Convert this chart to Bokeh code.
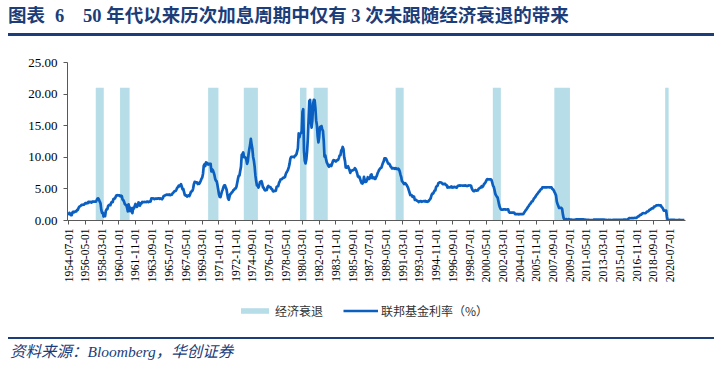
import numpy as np
from bokeh.plotting import figure
from bokeh.layouts import column
from bokeh.models import (FixedTicker, NumeralTickFormatter, Div,
                          Legend, LegendItem, Range1d)
from bokeh.embed import file_html
from bokeh.resources import INLINE

# ---------------- texts ----------------
title_no_a = "图表"
title_no_b = "6"
title_text = "50 年代以来历次加息周期中仅有 3 次未跟随经济衰退的带来"
source_text = "资料来源：Bloomberg，华创证券"
legend_recession = "经济衰退"
legend_rate = "联邦基金利率（%）"

# ---------------- data ----------------
series_start = "1954-07"
# Fed funds rate (%), monthly, from 1954-07
ffr_1950s = [0.80, 1.22, 1.06, 0.85, 0.83, 1.28,
             1.39, 1.29, 1.35, 1.43, 1.43, 1.64, 1.68, 1.96, 2.18, 2.24, 2.35, 2.48,
             2.45, 2.50, 2.50, 2.62, 2.75, 2.71, 2.75, 2.73, 2.95, 2.96, 2.88, 2.94,
             2.84, 3.00, 2.96, 3.00, 3.00, 3.00, 2.99, 3.24, 3.47, 3.50, 3.28, 2.98,
             2.72, 1.67, 1.20, 1.26, 0.63, 0.93, 0.68, 1.53, 1.76, 1.80, 2.27, 2.42,
             2.48, 2.43, 2.80, 2.96, 2.90, 3.39, 3.47, 3.50, 3.76, 3.98, 4.00, 3.99]
ffr_1960s = [3.99, 3.97, 3.84, 3.92, 3.85, 3.32, 3.23, 2.98, 2.60, 2.47, 2.44, 1.98,
             1.45, 2.54, 2.02, 1.49, 1.98, 1.73, 1.17, 2.00, 1.88, 2.26, 2.61, 2.33,
             2.15, 2.37, 2.85, 2.78, 2.36, 2.68, 2.71, 2.93, 2.90, 2.90, 2.94, 2.93,
             2.92, 3.00, 2.98, 2.90, 3.00, 2.99, 3.02, 3.49, 3.48, 3.50, 3.48, 3.38,
             3.48, 3.48, 3.43, 3.47, 3.50, 3.50, 3.42, 3.50, 3.45, 3.36, 3.52, 3.85,
             3.90, 3.98, 4.04, 4.09, 4.10, 4.04, 4.09, 4.12, 4.01, 4.08, 4.10, 4.32,
             4.42, 4.60, 4.65, 4.67, 4.90, 5.17, 5.30, 5.53, 5.40, 5.53, 5.76, 5.40,
             4.94, 5.00, 4.53, 4.05, 3.94, 3.98, 3.79, 3.90, 3.99, 3.88, 4.13, 4.51,
             4.61, 4.71, 5.05, 5.76, 6.11, 6.07, 6.02, 6.03, 5.78, 5.91, 5.82, 6.02,
             6.30, 6.61, 6.79, 7.41, 8.67, 8.90, 8.61, 9.19, 9.15, 9.00, 8.85, 8.97]
ffr_1970s = [8.98, 8.98, 7.76, 8.10, 7.95, 7.61, 7.21, 6.61, 6.29, 6.20, 5.60, 4.90,
             4.14, 3.72, 3.71, 4.16, 4.63, 4.91, 5.31, 5.56, 5.55, 5.20, 4.91, 4.14,
             3.50, 3.29, 3.83, 4.17, 4.27, 4.46, 4.55, 4.80, 4.87, 5.04, 5.06, 5.33,
             5.94, 6.58, 7.09, 7.12, 7.84, 8.49, 10.40, 10.50, 10.78, 10.01, 10.03, 9.95,
             9.65, 8.97, 9.35, 10.51, 11.31, 11.93, 12.92, 12.01, 11.34, 10.06, 9.45, 8.53,
             7.13, 6.24, 5.54, 5.49, 5.22, 5.55, 6.10, 6.14, 6.24, 5.82, 5.22, 5.20,
             4.87, 4.77, 4.84, 4.82, 5.29, 5.48, 5.31, 5.29, 5.25, 5.02, 4.95, 4.65,
             4.61, 4.68, 4.69, 4.73, 5.35, 5.39, 5.42, 5.90, 6.14, 6.47, 6.51, 6.56,
             6.70, 6.78, 6.79, 6.89, 7.36, 7.60, 7.81, 8.04, 8.45, 8.96, 9.76, 10.03,
             10.07, 10.06, 10.09, 10.01, 10.24, 10.29, 10.47, 10.94, 11.43, 13.77, 13.18, 13.78]
ffr_1980s = [13.82, 14.13, 17.19, 17.61, 10.98, 9.47, 9.03, 9.61, 10.87, 12.81, 15.85, 18.90,
             19.08, 15.93, 14.70, 15.72, 18.52, 19.10, 19.04, 17.82, 15.87, 15.08, 13.31, 12.37,
             13.22, 14.78, 14.68, 14.94, 14.45, 14.15, 12.59, 10.12, 10.31, 9.71, 9.20, 8.95,
             8.68, 8.51, 8.77, 8.80, 8.63, 8.98, 9.37, 9.56, 9.45, 9.48, 9.34, 9.47,
             9.56, 9.59, 9.91, 10.29, 10.32, 11.06, 11.23, 11.64, 11.30, 9.99, 9.43, 8.38,
             8.35, 8.50, 8.58, 8.27, 7.97, 7.53, 7.88, 7.90, 7.92, 7.99, 8.05, 8.27,
             8.14, 7.86, 7.48, 6.99, 6.85, 6.92, 6.56, 6.17, 5.89, 5.85, 6.04, 6.91,
             6.43, 6.10, 6.13, 6.37, 6.85, 6.73, 6.58, 6.73, 7.22, 7.29, 6.69, 6.77,
             6.83, 6.58, 6.58, 6.87, 7.09, 7.51, 7.75, 8.01, 8.19, 8.30, 8.35, 8.76,
             9.12, 9.36, 9.85, 9.84, 9.81, 9.53, 9.24, 8.99, 9.02, 8.84, 8.55, 8.45]
ffr_1990s = [8.23, 8.24, 8.28, 8.26, 8.18, 8.29, 8.15, 8.13, 8.20, 8.11, 7.81, 7.31,
             6.91, 6.25, 6.12, 5.91, 5.78, 5.90, 5.82, 5.66, 5.45, 5.21, 4.81, 4.43,
             4.03, 4.06, 3.98, 3.73, 3.82, 3.76, 3.25, 3.30, 3.22, 3.10, 3.09, 2.92,
             3.02, 3.03, 3.07, 2.96, 3.00, 3.04, 3.06, 3.03, 3.09, 2.99, 3.02, 2.96,
             3.05, 3.25, 3.34, 3.56, 4.01, 4.25, 4.26, 4.47, 4.73, 4.76, 5.29, 5.45,
             5.53, 5.92, 5.98, 6.05, 6.01, 6.00, 5.85, 5.74, 5.80, 5.76, 5.80, 5.60,
             5.56, 5.22, 5.31, 5.22, 5.24, 5.27, 5.40, 5.22, 5.30, 5.24, 5.31, 5.29,
             5.25, 5.19, 5.39, 5.51, 5.50, 5.56, 5.52, 5.54, 5.54, 5.50, 5.52, 5.50,
             5.56, 5.51, 5.49, 5.45, 5.49, 5.56, 5.54, 5.55, 5.51, 5.07, 4.83, 4.68,
             4.63, 4.76, 4.81, 4.74, 4.74, 4.76, 4.99, 5.07, 5.22, 5.20, 5.42, 5.30]
ffr_2000s = [5.45, 5.73, 5.85, 6.02, 6.27, 6.53, 6.54, 6.50, 6.52, 6.51, 6.51, 6.40,
             5.98, 5.49, 5.31, 4.80, 4.21, 3.97, 3.77, 3.65, 3.07, 2.49, 2.09, 1.82,
             1.73, 1.74, 1.73, 1.75, 1.75, 1.75, 1.73, 1.74, 1.75, 1.75, 1.34, 1.24,
             1.24, 1.26, 1.25, 1.26, 1.26, 1.22, 1.01, 1.03, 1.01, 1.01, 1.00, 0.98,
             1.00, 1.01, 1.00, 1.00, 1.00, 1.03, 1.26, 1.43, 1.61, 1.76, 1.93, 2.16,
             2.28, 2.50, 2.63, 2.79, 3.00, 3.04, 3.26, 3.50, 3.62, 3.78, 4.00, 4.16,
             4.29, 4.49, 4.59, 4.79, 4.94, 4.99, 5.24, 5.25, 5.25, 5.25, 5.25, 5.24,
             5.25, 5.26, 5.26, 5.25, 5.25, 5.25, 5.26, 5.02, 4.94, 4.76, 4.49, 4.24,
             3.94, 2.98, 2.61, 2.28, 1.98, 2.00, 2.01, 2.00, 1.81, 0.97, 0.39, 0.16,
             0.15, 0.22, 0.18, 0.15, 0.18, 0.21, 0.16, 0.16, 0.15, 0.12, 0.12, 0.12]
ffr_2010s = [0.11, 0.13, 0.16, 0.20, 0.20, 0.18, 0.18, 0.19, 0.19, 0.19, 0.19, 0.18,
             0.17, 0.16, 0.14, 0.10, 0.09, 0.09, 0.07, 0.10, 0.08, 0.07, 0.08, 0.07,
             0.08, 0.10, 0.13, 0.14, 0.16, 0.16, 0.16, 0.13, 0.14, 0.16, 0.16, 0.16,
             0.14, 0.15, 0.14, 0.15, 0.11, 0.09, 0.09, 0.08, 0.08, 0.09, 0.08, 0.09,
             0.07, 0.07, 0.08, 0.09, 0.09, 0.10, 0.09, 0.09, 0.09, 0.09, 0.09, 0.12,
             0.11, 0.11, 0.11, 0.12, 0.12, 0.13, 0.13, 0.14, 0.14, 0.12, 0.12, 0.24,
             0.34, 0.38, 0.36, 0.37, 0.37, 0.38, 0.39, 0.40, 0.40, 0.40, 0.41, 0.54,
             0.65, 0.66, 0.79, 0.90, 0.91, 1.04, 1.15, 1.16, 1.15, 1.15, 1.16, 1.30,
             1.41, 1.42, 1.51, 1.69, 1.70, 1.82, 1.91, 1.91, 1.95, 2.19, 2.20, 2.27,
             2.40, 2.40, 2.41, 2.42, 2.39, 2.38, 2.40, 2.13, 2.04, 1.83, 1.55, 1.55]
ffr_2020s = [1.55, 1.58, 0.65, 0.05, 0.05, 0.08, 0.09, 0.10, 0.09, 0.09, 0.09, 0.09,
             0.09, 0.08, 0.07, 0.07, 0.06, 0.08, 0.10, 0.09, 0.08, 0.08, 0.08, 0.08,
             0.08, 0.08]

# Recessions (start / end month) and the recession series value
rec_start = ["1957-08", "1960-04", "1969-12", "1973-11", "1980-01",
             "1981-07", "1990-07", "2001-03", "2007-12", "2020-02"]
rec_end = ["1958-04", "1961-02", "1970-11", "1975-03", "1980-07",
           "1982-11", "1991-03", "2001-11", "2009-06", "2020-04"]
rec_value = 21.0

x_tick_labels = ["1954-07-01", "1956-05-01", "1958-03-01", "1960-01-01", "1961-11-01",
                 "1963-09-01", "1965-07-01", "1967-05-01", "1969-03-01", "1971-01-01",
                 "1972-11-01", "1974-09-01", "1976-07-01", "1978-05-01", "1980-03-01",
                 "1982-01-01", "1983-11-01", "1985-09-01", "1987-07-01", "1989-05-01",
                 "1991-03-01", "1993-01-01", "1994-11-01", "1996-09-01", "1998-07-01",
                 "2000-05-01", "2002-03-01", "2004-01-01", "2005-11-01", "2007-09-01",
                 "2009-07-01", "2011-05-01", "2013-03-01", "2015-01-01", "2016-11-01",
                 "2018-09-01", "2020-07-01"]
y_ticks = [0, 5, 10, 15, 20, 25]


def month_index(s):
    y0, m0 = (int(v) for v in series_start.split("-"))
    y, m = (int(v) for v in s.split("-")[:2])
    return (y - y0) * 12 + (m - m0)


ffr = ffr_1950s + ffr_1960s + ffr_1970s + ffr_1980s + ffr_1990s + ffr_2000s + ffr_2010s + ffr_2020s
x_idx = np.arange(len(ffr))
rs = np.array([month_index(s) for s in rec_start], dtype=float)
re_ = np.array([month_index(s) for s in rec_end], dtype=float)
x_ticks = [month_index(s) for s in x_tick_labels]

# ---------------- styling ----------------
NAVY = "#1B3D79"
BAND = "#B7DEE8"
LINE = "#0A5FC0"
AXIS = "#595959"
SERIF = "Liberation Serif"
CJK = "Noto Sans CJK SC"
CSS_FONT = "'Liberation Serif','Noto Sans CJK SC',serif"
PAGE_W = 722
FRAME_L, FRAME_R = 67, 37   # main plot borders (frame spans page x 67..685)


def span_html(left, top, txt, size, style):
    return (f'<span style="position:absolute;left:{left}px;top:{top}px;white-space:nowrap;'
            f'font-family:{CSS_FONT};font-size:{size}px;line-height:{size}px;{style}'
            f'color:{NAVY};">{txt}</span>')


def rule_html(top, thick):
    return (f'<div style="position:absolute;left:8px;top:{top}px;width:706px;'
            f'height:{thick}px;background:{NAVY};"></div>')


# ---- title (page y 0..40) ----
title_html = ('<div style="position:relative;width:722px;height:40px;">'
              + span_html(8, 7.2, title_no_a, 18.5, "font-weight:bold;")
              + span_html(55, 7.2, title_no_b, 18.5, "font-weight:bold;")
              + span_html(83, 7.2, title_text, 18.5, "font-weight:bold;")
              + rule_html(33.3, 2.8) + '</div>')
title_div = Div(text=title_html, width=PAGE_W, height=40, margin=0)

# ---- main chart (page y 40..292) ----
p = figure(width=PAGE_W, height=252, output_backend="svg", toolbar_location=None,
           x_range=Range1d(-1.5, len(ffr) + 0.5), y_range=Range1d(0, 25),
           min_border_left=FRAME_L, min_border_right=FRAME_R,
           min_border_top=22, min_border_bottom=72)
p.outline_line_color = None
p.grid.visible = False

bands = p.quad(left=rs - 1.3, right=re_ + 1.3, bottom=0, top=rec_value,
               fill_color=BAND, line_color=None)
rate = p.line(x_idx, ffr, line_color=LINE, line_width=2.7, line_join="round")

xa = p.xaxis[0]
xa.ticker = FixedTicker(ticks=x_ticks)
xa.major_label_overrides = {t: lab for t, lab in zip(x_ticks, x_tick_labels)}
xa.major_label_orientation = np.pi / 2
xa.major_label_text_font = SERIF
xa.major_label_text_font_size = "11.5px"
xa.major_label_text_color = "#000000"
xa.major_label_standoff = 4
xa.major_tick_in = 0
xa.major_tick_out = 4
xa.minor_tick_line_color = None
xa.axis_line_color = AXIS
xa.major_tick_line_color = AXIS

ya = p.yaxis[0]
ya.ticker = FixedTicker(ticks=y_ticks)
ya.formatter = NumeralTickFormatter(format="0.00")
ya.major_label_text_font = SERIF
ya.major_label_text_font_size = "13px"
ya.major_label_text_color = "#000000"
ya.major_label_standoff = 6
ya.major_tick_in = 0
ya.major_tick_out = 4
ya.minor_tick_line_color = None
ya.axis_line_color = AXIS
ya.major_tick_line_color = AXIS

# ---- legend strip (page y 292..326); its frame lines up with the chart frame ----
# the same series are drawn here on a y range that keeps them out of view,
# so that the legend has real glyphs to draw its swatches from
fl = figure(width=PAGE_W, height=34, output_backend="svg", toolbar_location=None,
            x_range=Range1d(-1.5, len(ffr) + 0.5), y_range=Range1d(-100, -62),
            x_axis_type=None, y_axis_type=None,
            min_border_left=FRAME_L, min_border_right=FRAME_R,
            min_border_top=0, min_border_bottom=0)
fl.outline_line_color = None
fl.grid.visible = False
lg_band = fl.quad(left=rs, right=re_, bottom=0, top=rec_value, fill_color=BAND, line_color=None)
lg_line = fl.line(x_idx, ffr, line_color=LINE, line_width=2.7)
legend = Legend(items=[LegendItem(label=legend_recession, renderers=[lg_band]),
                       LegendItem(label=legend_rate, renderers=[lg_line])],
                orientation="horizontal", location=(237 - FRAME_L, 7),
                glyph_width=35, glyph_height=7, label_standoff=3, spacing=20,
                label_text_font=CJK, label_text_font_size="12px", label_text_color="#333333",
                border_line_color=None, background_fill_alpha=0, margin=0, padding=0)
fl.add_layout(legend)

# ---- footer (page y 326..369) ----
footer_html = ('<div style="position:relative;width:722px;height:43px;">'
               + rule_html(10.5, 2.6)
               + span_html(10, 18.3, source_text, 15.5, "font-style:italic;")
               + '</div>')
footer_div = Div(text=footer_html, width=PAGE_W, height=43, margin=0)

layout = column(title_div, p, fl, footer_div, spacing=0)
open("out.html", "w").write(file_html(layout, INLINE))
